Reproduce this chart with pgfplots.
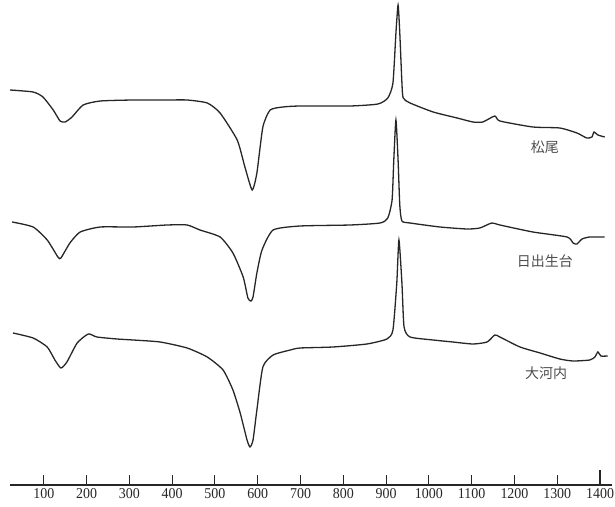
\documentclass[border=0pt]{standalone}
\usepackage{fontspec}
\setmainfont{Liberation Serif}
\newfontfamily\tickfont[FakeStretch=0.93]{Liberation Serif}
\newfontfamily\jp{Noto Sans CJK JP}
\usepackage{pgfplots}
\pgfplotsset{compat=1.18}
\pgfplotsset{curve/.style={draw=black!85, line width=1.3pt, smooth, tension=0.35, mark=none}}
\begin{document}
\begin{tikzpicture}
\begin{axis}[
  scale only axis,
  width=602pt, height=485pt,
  xmin=21, xmax=1428, ymin=15, ymax=500,
  axis x line=bottom, axis y line=none,
  x axis line style={-, line width=1.3pt, black!85},
  xtick={100,200,...,1300},
  xticklabels={100,200,300,400,500,600,700,800,900,1000,1100,1200,1300},
  extra x ticks={1400},
  extra x tick labels={1400},
  xtick align=inside,
  major tick length=10pt,
  extra x tick style={major tick length=15.5pt},
  xtick style={line width=1.1pt, black!85},
  xticklabel style={font=\tickfont\fontsize{15}{15}\selectfont, inner sep=0pt, yshift=-3pt, text=black!85},
  clip=false,
]
% 松尾
\addplot[curve] coordinates {
(21,410) (75,408) (98,403) (122,390) (138,379) (150,378) (166,383) (192,395) (232,399)
(309,400) (388,400) (435,400) (482,397) (512,387) (552,360) (570,333) (587,310) (598,327)
(612,373) (629,390) (659,393) (699,394) (816,394) (881,396) (904,402) (916,417) (923,467)
(928,495) (932,467) (937,417) (940,402) (956,397) (1010,388) (1066,382) (1103,378) (1126,378)
(1154,384) (1166,379) (1243,373) (1306,372) (1346,367) (1369,362) (1381,363) (1386,368)
(1395,365) (1411,363)
};
% 日出生台
\addplot[curve] coordinates {
(26,278) (75,273) (108,260) (133,243) (140,242) (161,257) (185,268) (232,273) (309,273)
(388,275) (435,275) (465,270) (512,263) (542,247) (566,223) (577,202) (584,199) (589,203)
(598,227) (610,250) (636,270) (699,274) (816,275) (886,277) (904,282) (914,300) (918,340)
(923,380) (928,340) (932,295) (937,279) (956,277) (1026,273) (1089,271) (1119,272) (1147,277)
(1166,275) (1243,268) (1323,263) (1337,257) (1346,256) (1358,261) (1376,263) (1411,263)
};
% 大河内
\addplot[curve] coordinates {
(28,167) (75,162) (108,153) (126,140) (140,132) (154,138) (178,157) (204,166) (224,163)
(271,161) (309,160) (372,158) (435,152) (482,143) (519,130) (542,110) (559,87) (575,60)
(582,53) (589,60) (598,90) (612,133) (636,145) (676,150) (699,152) (776,153) (855,156)
(902,161) (916,170) (925,217) (930,260) (937,217) (942,173) (956,163) (1010,160) (1056,158)
(1103,156) (1136,158) (1154,165) (1166,163) (1213,153) (1260,147) (1306,141) (1337,139)
(1376,140) (1388,143) (1395,148) (1402,144) (1418,144)
};
\node[font=\jp\fontsize{14}{14}\selectfont, text=black!70] at (axis cs:1271,353) {松尾};
\node[font=\jp\fontsize{14}{14}\selectfont, text=black!70] at (axis cs:1271,239) {日出生台};
\node[font=\jp\fontsize{14}{14}\selectfont, text=black!70] at (axis cs:1274,127) {大河内};
\end{axis}
\path[use as bounding box] ([xshift=-10pt,yshift=-21pt]current axis.south west) rectangle ([xshift=3pt]current axis.north east);
\end{tikzpicture}
\end{document}
